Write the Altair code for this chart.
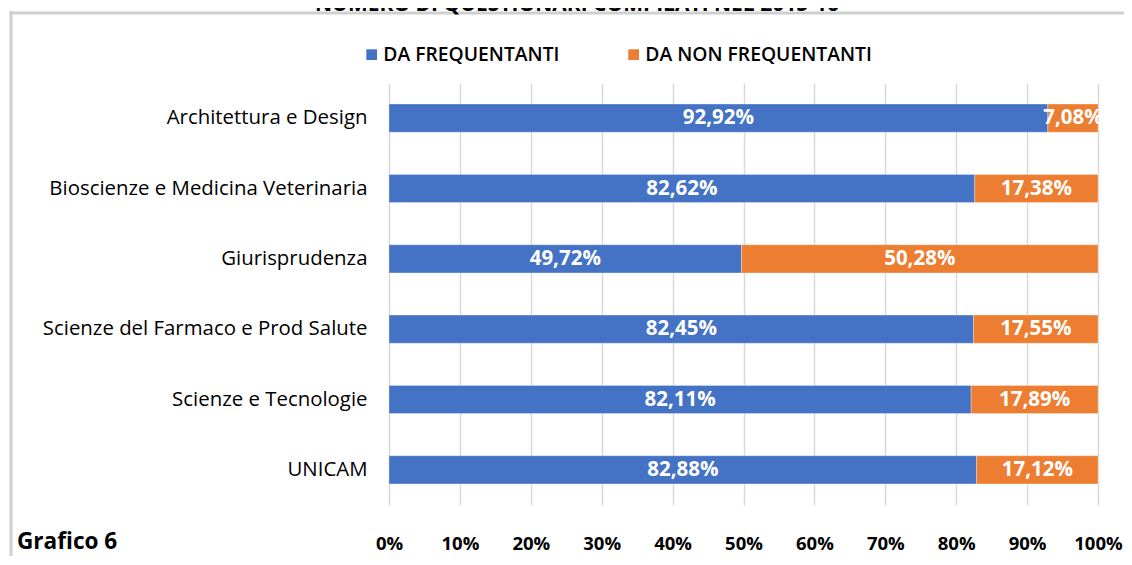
import altair as alt
import pandas as pd

categories = ["Architettura e Design", "Bioscienze e Medicina Veterinaria", "Giurisprudenza",
              "Scienze del Farmaco e Prod Salute", "Scienze e Tecnologie", "UNICAM"]
series = ["DA FREQUENTANTI", "DA NON FREQUENTANTI"]
frequentanti = [92.92, 82.62, 49.72, 82.45, 82.11, 82.88]
non_frequentanti = [7.08, 17.38, 50.28, 17.55, 17.89, 17.12]
x_ticks = [0, 10, 20, 30, 40, 50, 60, 70, 80, 90, 100]
title_text = "NUMERO DI QUESTIONARI COMPILATI NEL 2015-16"
caption_text = "Grafico 6"

rows = []
for c, f, n in zip(categories, frequentanti, non_frequentanti):
    rows.append({"cat": c, "series": series[0], "value": f, "ord": 0})
    rows.append({"cat": c, "series": series[1], "value": n, "ord": 1})
df = pd.DataFrame(rows)

FONT = "Open Sans"
BLUE = "#4472C4"
ORANGE = "#ED7D31"

base = alt.Chart(df)

ysc = alt.Scale(domain=categories, paddingInner=0.6, paddingOuter=0.3)

bars = base.mark_bar(stroke="white", strokeWidth=0.6, strokeOpacity=0.5).encode(
    y=alt.Y("cat:N", sort=categories, scale=ysc,
            axis=alt.Axis(title=None, labelFontSize=20.4, labelPadding=22, ticks=False,
                          domain=False, labelColor="#000000", labelFont=FONT, labelLimit=400,
                          labelFontWeight=500)),
    x=alt.X("value:Q", stack="zero", scale=alt.Scale(domain=[0, 100], nice=False),
            axis=alt.Axis(values=x_ticks, labelExpr="datum.value + '%'", title=None, grid=True,
                          gridColor="#d9d9d9", gridWidth=1.5, ticks=False, domain=False,
                          labelPadding=29, labelFontWeight="bold", labelFontSize=18.5,
                          labelColor="#000000", labelFont=FONT, labelFlush=False)),
    color=alt.Color("series:N", scale=alt.Scale(domain=series, range=[BLUE, ORANGE]),
                    legend=alt.Legend(title=None, orient="none", legendX=-27, legendY=-38,
                                      direction="horizontal", symbolType="square", symbolSize=115,
                                      symbolStrokeWidth=0, labelFontSize=19.3, labelFont=FONT,
                                      labelFontWeight=600,
                                      labelColor="#000000", labelOffset=2, columnPadding=64,
                                      padding=0, labelLimit=400)),
    order=alt.Order("ord:Q"),
)

labels = base.transform_stack(
    stack="value", groupby=["cat"], as_=["x0", "x1"], sort=[alt.SortField("ord")]
).transform_calculate(
    mid="(datum.x0 + datum.x1) / 2",
    label="replace(format(datum.value, '.2f'), '.', ',') + '%'",
).mark_text(color="white", fontWeight="bold", fontSize=20.5, font=FONT).encode(
    x=alt.X("mid:Q"),
    y=alt.Y("cat:N", sort=categories, scale=ysc),
    text="label:N",
)

one = pd.DataFrame({"t": [title_text], "c": [caption_text]})

title = alt.Chart(one).mark_text(fontSize=21, fontWeight="bold", font=FONT, align="center",
                                 baseline="alphabetic", color="#000000").encode(
    x=alt.value(188), y=alt.value(-72), text="t:N")

caption = alt.Chart(one).mark_text(fontSize=22.6, fontWeight="bold", font=FONT, align="left",
                                   baseline="alphabetic", color="#000000").encode(
    x=alt.value(-372), y=alt.value(466), text="c:N")

frame_left = alt.Chart(one).mark_rule(color="#cfcfcf", strokeWidth=3).encode(
    x=alt.value(-378), y=alt.value(-72), y2=alt.value(700))
frame_top = alt.Chart(one).mark_rule(color="#cfcfcf", strokeWidth=3).encode(
    x=alt.value(-379.5), x2=alt.value(900), y=alt.value(-70))

chart = alt.layer(frame_left, frame_top, bars, labels, title, caption).properties(
    width=709, height=422,
    autosize=alt.AutoSizeParams(type="none"),
    padding={"left": 381, "top": 75, "right": 26, "bottom": 51},
    background="white",
).configure_view(stroke=None)

chart.save("out.html", embed_options={"renderer": "svg", "actions": False})
